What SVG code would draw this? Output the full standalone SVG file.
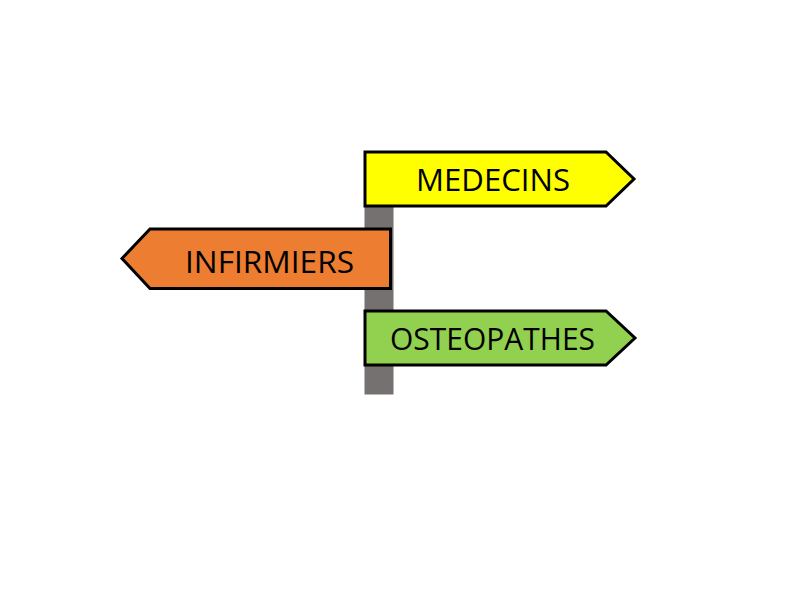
<svg xmlns="http://www.w3.org/2000/svg" width="800" height="600" viewBox="0 0 800 600">
<style>
.sign{stroke:#000;stroke-width:3;stroke-linejoin:miter}
.lbl{font-family:"Open Sans","Noto Sans","Liberation Sans",sans-serif;font-size:31px;fill:#000}
</style>
<rect width="800" height="600" fill="#fff"/>
<rect id="post" x="364.5" y="205" width="29" height="189.5" fill="#767171"/>
<g id="medecins"><polygon class="sign" fill="#ffff00" points="365,152 606,152 634,179 606,206 365,206"/><text class="lbl" x="416" y="191" textLength="154" lengthAdjust="spacingAndGlyphs">MEDECINS</text></g>
<g id="infirmiers"><polygon class="sign" fill="#ed7d31" points="390.5,229 150,229 122,258.5 150,288.5 390.5,288.5"/><text class="lbl" x="185" y="273" textLength="169" lengthAdjust="spacingAndGlyphs">INFIRMIERS</text></g>
<g id="osteopathes"><polygon class="sign" fill="#92d050" points="365,311 606,311 635,338 606,365 365,365"/><text class="lbl" x="390" y="350" textLength="205" lengthAdjust="spacingAndGlyphs">OSTEOPATHES</text></g>
<g id="connectors"/>
</svg>
